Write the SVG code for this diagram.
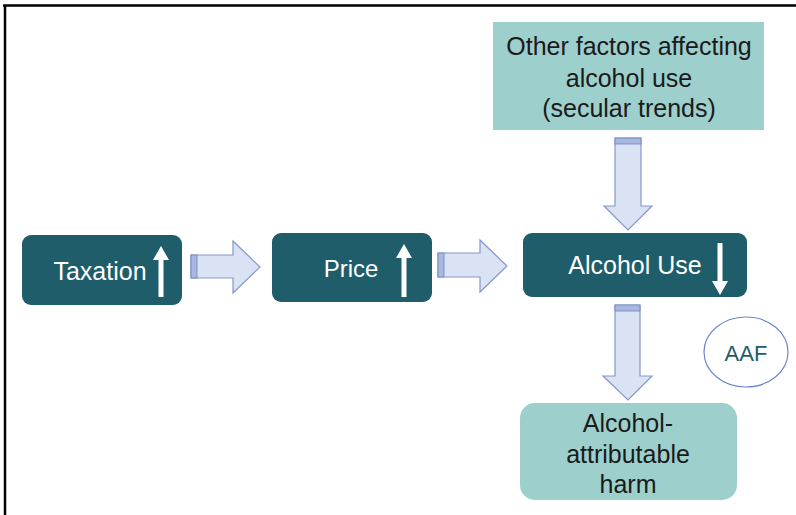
<svg xmlns="http://www.w3.org/2000/svg" width="796" height="515" viewBox="0 0 796 515">
<defs>
<style>
.dark{fill:#1e5d69;}
.light{fill:#9dcfcc;}
.wt{font-family:"Liberation Sans",Arial,sans-serif;font-size:23px;fill:#ffffff;text-anchor:middle;}
.bt{font-family:"Liberation Sans",Arial,sans-serif;font-size:25px;fill:#1a1a1a;text-anchor:middle;}
.blk{fill:#dae3f3;stroke:#8497cc;stroke-width:1.2;}
.band{fill:#a9b8e0;stroke:#6f82bd;stroke-width:0.8;}
.wa{fill:#ffffff;}
</style>
</defs>
<rect width="796" height="515" fill="#ffffff"/>
<g id="frame">
<line x1="3" y1="5.5" x2="796" y2="5.5" stroke="#000" stroke-width="2.5"/>
<line x1="5" y1="5" x2="5" y2="515" stroke="#000" stroke-width="2.5"/>
</g>
<g id="connectors">
<g id="arrow-tax-price">
<path class="blk" d="M191,255 H233 V241 L260,267 L233,293 V278 H191 Z"/>
<rect class="band" x="191" y="255" width="6" height="23"/>
</g>
<g id="arrow-price-use">
<path class="blk" d="M438,253 H480 V240 L507,266 L480,292 V277 H438 Z"/>
<rect class="band" x="438" y="253" width="6" height="24"/>
</g>
<g id="arrow-factors-use">
<path class="blk" d="M615,138 H641 V206 H652 L628,230 L604,206 H615 Z"/>
<rect class="band" x="615" y="138" width="26" height="6"/>
</g>
<g id="arrow-use-harm">
<path class="blk" d="M615,305 H640 V376 H652 L628,400 L603,376 H615 Z"/>
<rect class="band" x="615" y="305" width="25" height="6"/>
</g>
</g>
<g id="taxation">
<rect class="dark" x="22" y="235" width="160" height="70" rx="9"/>
<text class="wt" x="100" y="280" style="font-size:25px">Taxation</text>
<path class="wa" d="M158.5,297 V260 H153 L161,246 L169,260 H163.5 V297 Z"/>
</g>
<g id="price">
<rect class="dark" x="272" y="233" width="160" height="69" rx="9"/>
<text class="wt" x="351" y="277" style="font-size:24px">Price</text>
<path class="wa" d="M401.5,297 V258 H396 L404,244 L412,258 H406.5 V297 Z"/>
</g>
<g id="alcohol-use">
<rect class="dark" x="523" y="233" width="224" height="64" rx="9"/>
<text class="wt" x="635" y="274" style="font-size:25px">Alcohol Use</text>
<path class="wa" d="M717.5,243 V281 H712 L720,295 L728,281 H722.5 V243 Z"/>
</g>
<g id="other-factors">
<rect class="light" x="493" y="22" width="271" height="108"/>
<text class="bt" x="629" y="55">Other factors affecting</text>
<text class="bt" x="629" y="87">alcohol use</text>
<text class="bt" x="629" y="117">(secular trends)</text>
</g>
<g id="harm">
<rect class="light" x="520" y="403" width="217" height="97" rx="15"/>
<text class="bt" x="628" y="432">Alcohol-</text>
<text class="bt" x="628" y="463">attributable</text>
<text class="bt" x="628" y="493">harm</text>
</g>
<g id="aaf">
<ellipse cx="746" cy="352" rx="42" ry="35" fill="#ffffff" stroke="#6d87cc" stroke-width="1.2"/>
<text x="746" y="361" font-family="Liberation Sans,Arial,sans-serif" font-size="22" fill="#1e5d69" text-anchor="middle">AAF</text>
</g>
</svg>
